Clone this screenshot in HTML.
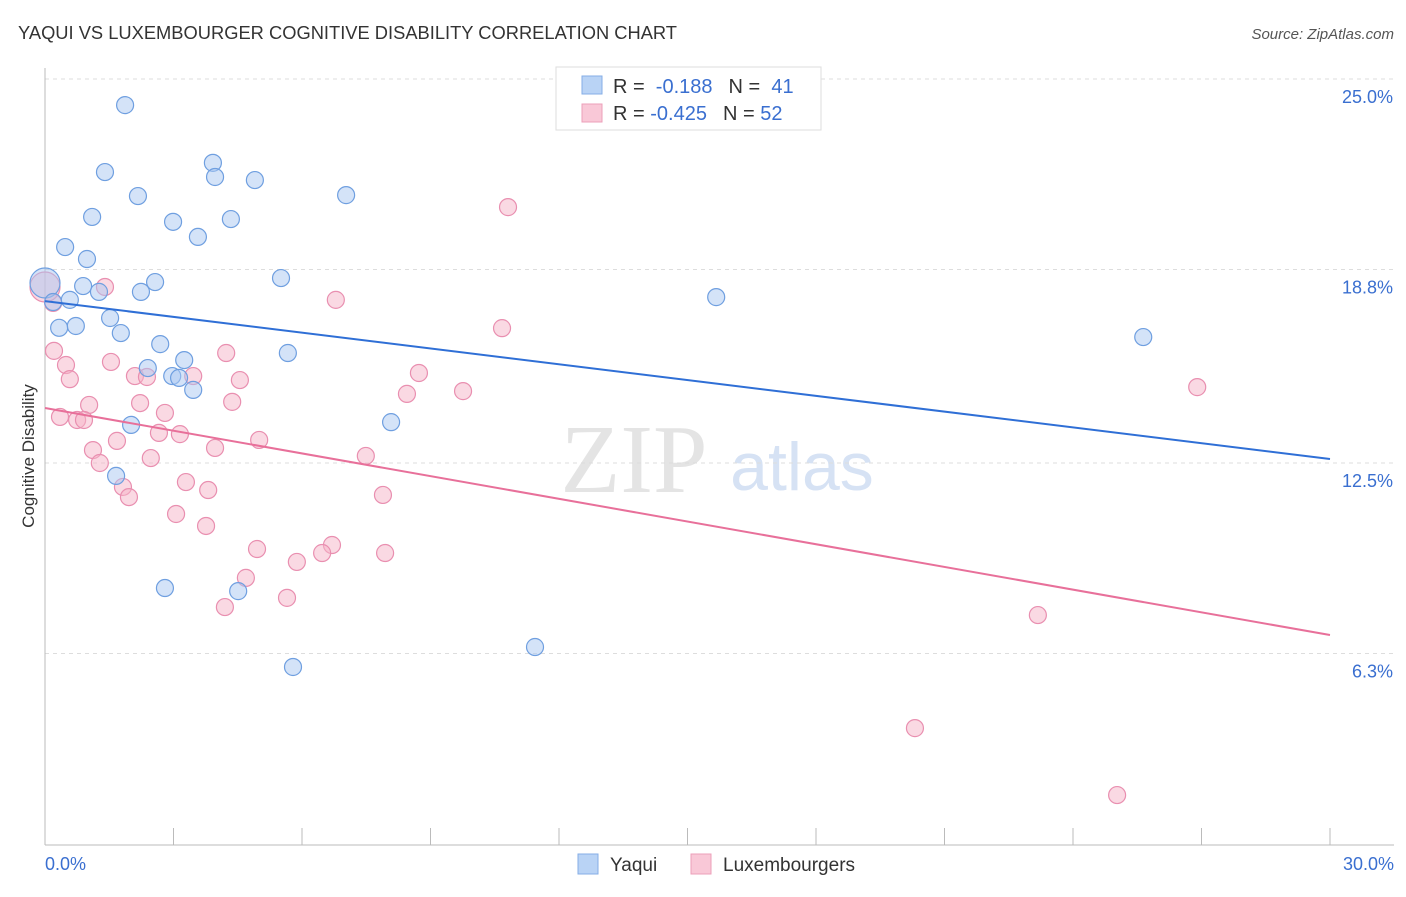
<!DOCTYPE html>
<html><head><meta charset="utf-8"><style>
body{margin:0;background:#fff;font-family:"Liberation Sans",sans-serif;}
svg text{font-family:"Liberation Sans",sans-serif;}
</style></head><body>
<svg id="c" width="1406" height="892">
<text x="18" y="39" font-size="18" fill="#333" textLength="659" lengthAdjust="spacingAndGlyphs">YAQUI VS LUXEMBOURGER COGNITIVE DISABILITY CORRELATION CHART</text>
<text x="1394" y="39" font-size="15" fill="#555" text-anchor="end" font-style="italic">Source: ZipAtlas.com</text>
<text x="634" y="492" font-size="98" fill="#e4e4e4" text-anchor="middle" style="font-family:'Liberation Serif',serif">ZIP</text>
<text x="802" y="490" font-size="68" fill="#d6e2f4" text-anchor="middle">atlas</text>
<text x="34" y="456" font-size="17" fill="#333" text-anchor="middle" transform="rotate(-90 34 456)">Cognitive Disability</text>
<g id="grid"></g><g id="axes"></g><g id="pts"></g><g id="trend"></g>
<g>
<rect x="556" y="67" width="265" height="63" fill="#fff" stroke="#ddd"/>
<rect x="582" y="76" width="20" height="18" fill="#b9d3f5" stroke="#85aee6"/>
<text x="613" y="93" font-size="20" fill="#333">R = <tspan fill="#3a6fd0">&#160;-0.188</tspan><tspan dx="16">N = </tspan><tspan fill="#3a6fd0">&#160;41</tspan></text>
<rect x="582" y="104" width="20" height="18" fill="#f9c8d7" stroke="#ec9fba"/>
<text x="613" y="120" font-size="20" fill="#333">R = <tspan fill="#3a6fd0">-0.425</tspan><tspan dx="16">N = </tspan><tspan fill="#3a6fd0">52</tspan></text>
</g>
<g>
<rect x="578" y="854" width="20" height="20" fill="#b9d3f5" stroke="#85aee6"/>
<text x="610" y="871" font-size="19" fill="#333">Yaqui</text>
<rect x="691" y="854" width="20" height="20" fill="#f9c8d7" stroke="#ec9fba"/>
<text x="723" y="871" font-size="19" fill="#333">Luxembourgers</text>
</g>
</svg>
<script>
const yTicks=[25.0,18.8,12.5,6.3];
const yTickLabels=["25.0%","18.8%","12.5%","6.3%"];
const xTickLabels=["0.0%","30.0%"];
const yaquiX=[1.87,1.40,2.17,3.92,3.97,4.90,7.03,1.10,2.99,4.34,3.57,0.47,0.98,5.51,2.57,0.89,1.26,2.24,0,0.19,0.58,1.52,0.33,0.72,1.77,2.69,3.25,2.40,2.97,3.13,3.46,5.67,8.08,2.01,1.66,2.80,4.51,5.79,11.44,15.67,25.64];
const yaquiY=[24.15,21.97,21.19,22.27,21.81,21.71,21.22,20.51,20.35,20.44,19.86,19.53,19.14,18.52,18.39,18.26,18.07,18.07,18.36,17.74,17.81,17.22,16.90,16.96,16.73,16.37,15.85,15.59,15.33,15.27,14.88,16.08,13.83,13.74,12.08,8.43,8.33,5.86,6.51,17.90,16.60];
const luxX=[10.81,1.40,6.79,0.19,10.67,0,0.21,0.49,1.54,4.23,0.58,2.10,2.38,3.46,4.55,8.73,8.45,9.76,1.03,2.22,4.37,2.80,0.35,0.75,0.91,2.66,3.15,1.68,5.00,3.97,1.12,2.47,1.28,7.49,3.29,1.82,3.81,1.96,7.89,3.06,3.76,4.95,6.70,6.47,7.94,5.88,4.69,5.65,4.20,23.18,20.31,25.03,26.90];
const luxY=[20.83,18.23,17.81,17.71,16.89,18.23,16.15,15.69,15.79,16.08,15.23,15.33,15.30,15.33,15.20,15.43,14.75,14.84,14.39,14.45,14.49,14.13,14.00,13.90,13.90,13.48,13.44,13.22,13.25,12.99,12.92,12.66,12.50,12.73,11.88,11.72,11.62,11.39,11.46,10.84,10.45,9.70,9.83,9.57,9.57,9.28,8.76,8.11,7.81,7.55,3.87,1.69,14.97];
const yaquiTrend=[17.77,12.63];
const luxTrend=[14.29,6.90];
const NS="http://www.w3.org/2000/svg";
const X=v=>45+v*42.833, Y=v=>79+(25-v)*30.72;
function mk(t,p,a){const e=document.createElementNS(NS,t);for(const k in a)e.setAttribute(k,a[k]);p.appendChild(e);return e;}
const grid=document.getElementById('grid'),axes=document.getElementById('axes'),pts=document.getElementById('pts'),tr=document.getElementById('trend');
yTicks.forEach((t,i)=>{const l=mk('line',grid,{x1:45,x2:1394,y1:Y(t),y2:Y(t),stroke:'#ddd','stroke-dasharray':'4,4'});


const tx=mk('text',grid,{x:1393,y:Y(t)+24,'font-size':18,fill:'#3a6fd0','text-anchor':'end'});tx.textContent=yTickLabels[i];

});
const ax=mk('line',axes,{x1:45,x2:1394,y1:845,y2:845,stroke:'#bbb'});


const ay=mk('line',axes,{x1:45,x2:45,y1:68,y2:845,stroke:'#bbb'});


for(let i=0;i<=10;i++){const t=mk('line',axes,{x1:X(i*3),x2:X(i*3),y1:828,y2:845,stroke:'#bbb'});

}
[[0,'start',45],[30,'end',1394]].forEach((d,i)=>{const t=mk('text',axes,{x:d[2],y:870,'font-size':18,fill:'#3a6fd0','text-anchor':d[1]});t.textContent=xTickLabels[i];

});
function dots(xs,ys,fill,stroke,name){xs.forEach((x,i)=>{const big=(x===0);const c=mk('circle',pts,{cx:X(x),cy:Y(ys[i]),r:big?15:8.5,fill:fill,'fill-opacity':0.5,stroke:stroke,'stroke-width':1.2});

});}
dots(luxX,luxY,'#f5b3c8','#e98fb0','luxembourger-point');
dots(yaquiX,yaquiY,'#a9c8f2','#6f9fe0','yaqui-point');
const l1=mk('line',tr,{x1:X(0),y1:Y(yaquiTrend[0]),x2:X(30),y2:Y(yaquiTrend[1]),stroke:'#2f6fd6','stroke-width':2});


const l2=mk('line',tr,{x1:X(0),y1:Y(luxTrend[0]),x2:X(30),y2:Y(luxTrend[1]),stroke:'#e8709a','stroke-width':2});


</script>
</body></html>
